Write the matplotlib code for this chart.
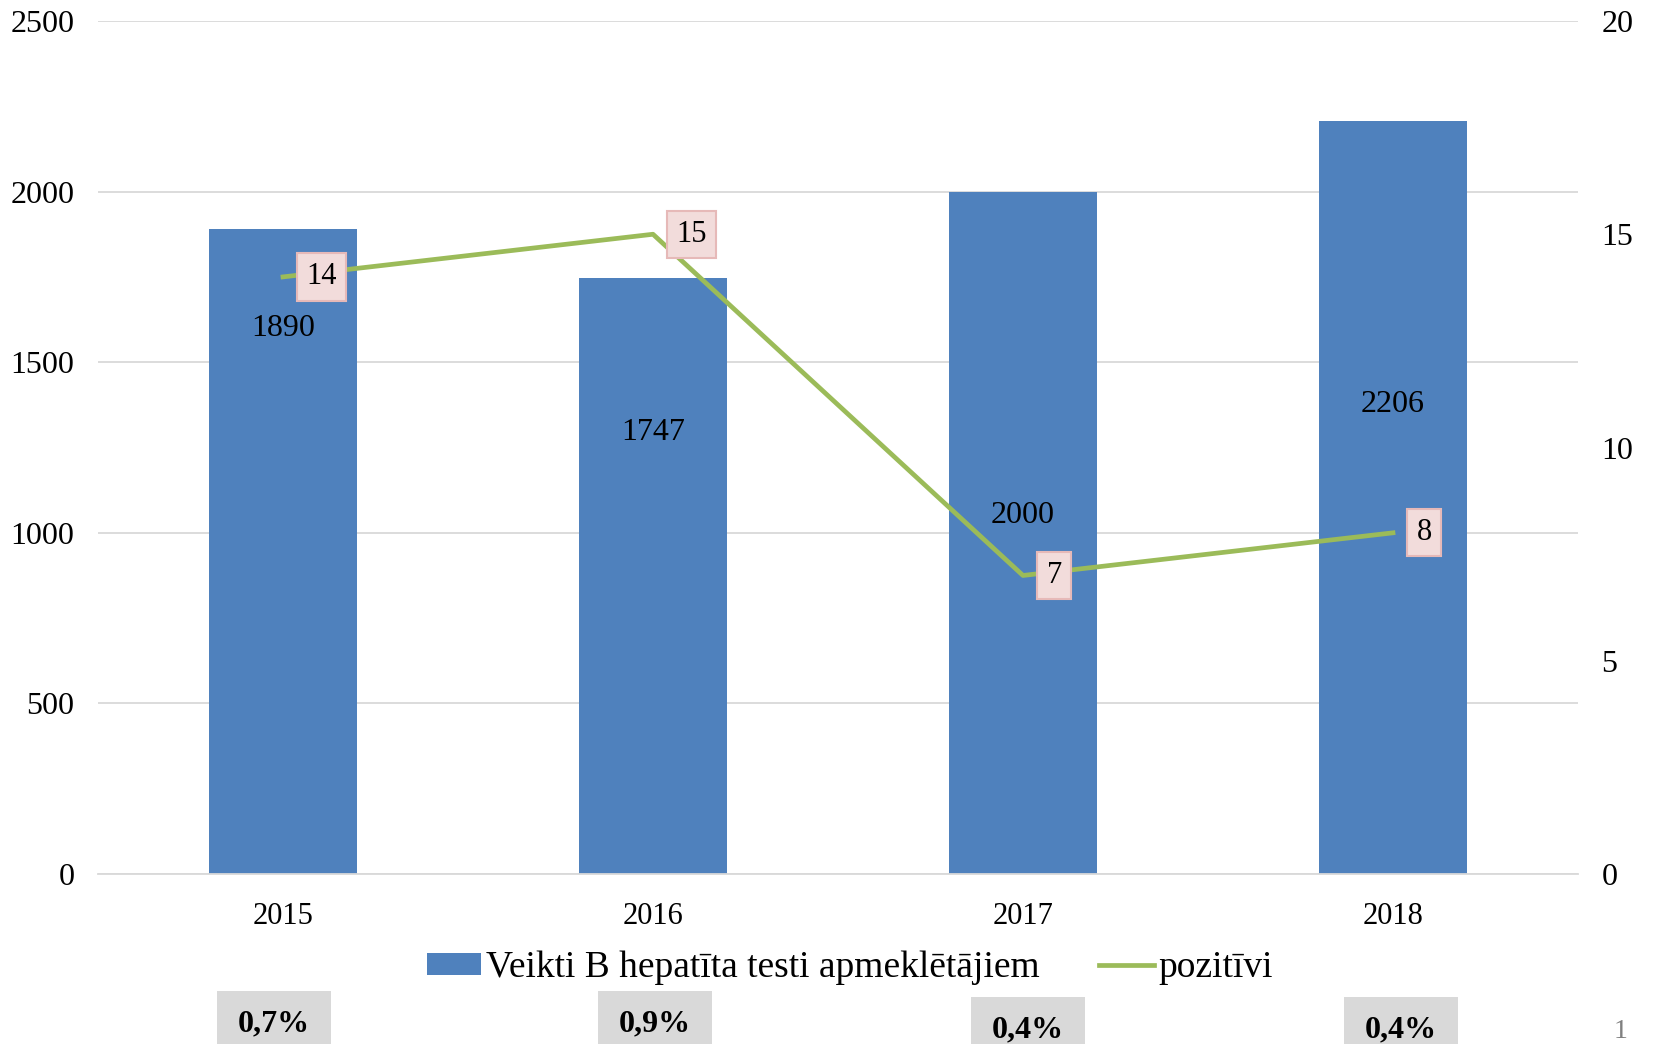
import numpy as np
import matplotlib.pyplot as plt
from matplotlib.patches import Rectangle

plt.rcParams['font.family'] = ['Liberation Serif', 'DejaVu Serif']

years = ['2015', '2016', '2017', '2018']
tests = [1890, 1747, 2000, 2206]
positive = [14, 15, 7, 8]
percent_labels = ['0,7%', '0,9%', '0,4%', '0,4%']
# where the bar value labels sit (they were placed by hand in the original)
bar_label_y = [1600, 1295, 1050, 1375]

bar_color = '#4f81bd'
line_color = '#9bbb59'
grid_color = '#d9d9d9'

fig = plt.figure(figsize=(16.53, 10.44), dpi=100)
ax = fig.add_axes([0.0593, 0.1628, 0.8953, 0.8171])
ax2 = ax.twinx()

x = np.arange(len(years))
bars = ax.bar(x, tests, width=0.40, color=bar_color, zorder=2,
              label='Veikti B hepatīta testi apmeklētājiem')
ax.set_xlim(-0.5, len(years) - 0.5)
ax.set_ylim(0, 2500)
ax.set_yticks(np.arange(0, 2501, 500))
ax.grid(axis='y', color=grid_color, lw=1.3, zorder=0)
ax.set_axisbelow(True)
ax.set_xticks(x)
ax.set_xticklabels(years)
ax.tick_params(axis='x', length=0, labelsize=22, pad=20)
ax.tick_params(axis='y', length=0, labelsize=23, pad=17)
for s in ['top', 'right', 'left']:
    ax.spines[s].set_visible(False)
ax.spines['bottom'].set_color(grid_color)
ax.spines['bottom'].set_linewidth(1.3)

for xi, v, ly in zip(x, tests, bar_label_y):
    ax.text(xi, ly, str(v), ha='center', va='center', fontsize=23, zorder=3)

line, = ax2.plot(x, positive, color=line_color, lw=3.4, label='pozitīvi',
                 zorder=4)
ax2.set_ylim(0, 20)
ax2.set_yticks(np.arange(0, 21, 5))
ax2.tick_params(axis='y', length=0, labelsize=23, pad=17)
for s in ['top', 'right', 'left', 'bottom']:
    ax2.spines[s].set_visible(False)

for xi, v in zip(x, positive):
    ax2.annotate(str(v), (xi, v), xytext=(17, 0), textcoords='offset points',
                 ha='left', va='center', fontsize=22, zorder=5,
                 bbox=dict(boxstyle='square,pad=0.3', fc='#f2dcdb',
                           ec='#e6b9b8', lw=1.5))

fig.legend(handles=[bars, line], loc='center', bbox_to_anchor=(0.514, 0.0728),
           ncol=2, frameon=False, fontsize=27, handlelength=1.45,
           handleheight=0.5, handletextpad=0.12, columnspacing=1.6)

# percentage boxes along the bottom edge (cut off by the page)
box_x = [274, 655, 1028, 1401]
box_top = [991, 991, 997, 997]
W, H = 1653, 1044
for bx, bt, lab in zip(box_x, box_top, percent_labels):
    fig.patches.append(Rectangle(((bx - 57) / W, -0.05), 114 / W,
                                 (H - bt) / H + 0.05, transform=fig.transFigure,
                                 fc='#d9d9d9', ec='none'))
    fig.text(bx / W, 1 - (bt + 33) / H, lab, ha='center', va='center',
             fontsize=23, fontweight='bold')

fig.text(1621 / W, 1 - 1031 / H, '1', ha='center', va='center', fontsize=20,
         color='#808080')

fig.savefig('out.png', dpi=100)
